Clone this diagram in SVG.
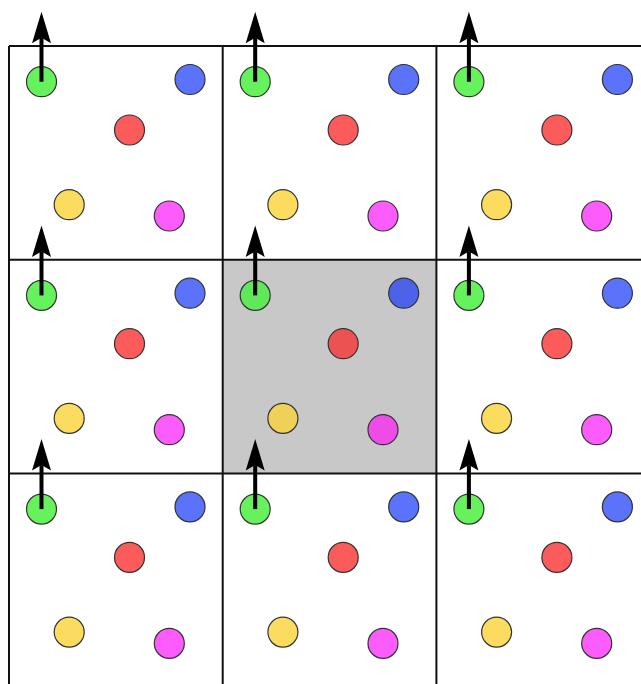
<svg xmlns="http://www.w3.org/2000/svg" width="641" height="684" viewBox="0 0 641 684">
<style>
.c{stroke:#333;stroke-width:1.2}
.g{fill:#66f25c}.b{fill:#5b73fb}.r{fill:#fc5b5b}.y{fill:#fcdc5e}.m{fill:#fc5cfc}
.hl .g{fill:#60e85a}.hl .b{fill:#4c62e8}.hl .r{fill:#ec5252}.hl .y{fill:#eed156}.hl .m{fill:#ee4ce8}
.grid{stroke:#111;stroke-width:2;fill:none}
.arr{stroke:#000;stroke-width:4;marker-end:url(#ah)}
</style>
<defs>
<marker id="ah" viewBox="-6 -10 33 20" refX="0" refY="0" markerWidth="33" markerHeight="20" markerUnits="userSpaceOnUse" orient="auto" overflow="visible">
<path d="M26,0 L-5.5,-9.5 L0,0 L-5.5,9.5 Z" fill="#000"/>
</marker>
<g id="cellDots">
<circle class="c g" cx="32.5" cy="35.7" r="15"/>
<circle class="c b" cx="181" cy="33.5" r="15"/>
<circle class="c r" cx="120.5" cy="84" r="15"/>
<circle class="c y" cx="60.2" cy="158.7" r="15"/>
<circle class="c m" cx="160.3" cy="170" r="15"/>
</g>
</defs>
<rect x="222.7" y="259.7" width="213.7" height="213.7" fill="#c8c8c8"/>
<g id="grid" class="grid">
<line x1="9" y1="46" x2="641" y2="46"/>
<line x1="9" y1="259.7" x2="641" y2="259.7"/>
<line x1="9" y1="473.4" x2="641" y2="473.4"/>
<line x1="9" y1="46" x2="9" y2="684"/>
<line x1="222.7" y1="46" x2="222.7" y2="684"/>
<line x1="436.4" y1="46" x2="436.4" y2="684"/>
</g>
<g id="cell-0-0" transform="translate(9,46)"><use href="#cellDots"/></g>
<g id="cell-1-0" transform="translate(222.7,46)"><use href="#cellDots"/></g>
<g id="cell-2-0" transform="translate(436.4,46)"><use href="#cellDots"/></g>
<g id="cell-0-1" transform="translate(9,259.7)"><use href="#cellDots"/></g>
<g id="cell-1-1" class="hl" transform="translate(222.7,259.7)">
<circle class="c g" cx="32.5" cy="35.7" r="15"/>
<circle class="c b" cx="181" cy="33.5" r="15"/>
<circle class="c r" cx="120.5" cy="84" r="15"/>
<circle class="c y" cx="60.2" cy="158.7" r="15"/>
<circle class="c m" cx="160.3" cy="170" r="15"/>
</g>
<g id="cell-2-1" transform="translate(436.4,259.7)"><use href="#cellDots"/></g>
<g id="cell-0-2" transform="translate(9,473.4)"><use href="#cellDots"/></g>
<g id="cell-1-2" transform="translate(222.7,473.4)"><use href="#cellDots"/></g>
<g id="cell-2-2" transform="translate(436.4,473.4)"><use href="#cellDots"/></g>
<g id="connectors" class="arr">
<line x1="41.5" y1="81.7" x2="41.5" y2="37.7"/>
<line x1="255.2" y1="81.7" x2="255.2" y2="37.7"/>
<line x1="468.9" y1="81.7" x2="468.9" y2="37.7"/>
<line x1="41.5" y1="295.4" x2="41.5" y2="251.4"/>
<line x1="255.2" y1="295.4" x2="255.2" y2="251.4"/>
<line x1="468.9" y1="295.4" x2="468.9" y2="251.4"/>
<line x1="41.5" y1="509.1" x2="41.5" y2="465.1"/>
<line x1="255.2" y1="509.1" x2="255.2" y2="465.1"/>
<line x1="468.9" y1="509.1" x2="468.9" y2="465.1"/>
</g>
</svg>
